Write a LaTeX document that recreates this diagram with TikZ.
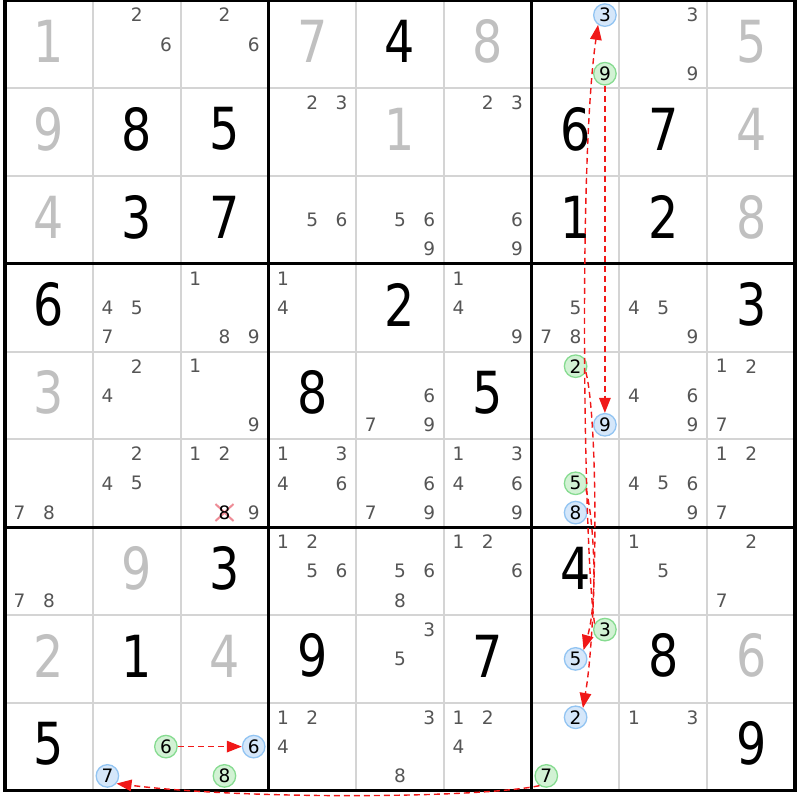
\documentclass[tikz,border=0pt]{standalone}
\usepackage{fontspec}
\setmainfont{DejaVu Sans}
\newfontfamily\bigfont[FakeStretch=0.82]{DejaVu Sans}
\usetikzlibrary{arrows.meta}
\definecolor{given}{HTML}{C0C0C0}
\definecolor{candc}{HTML}{555555}
\definecolor{thinc}{HTML}{D4D4D4}
\definecolor{bfill}{HTML}{D5E7FA}
\definecolor{bdraw}{HTML}{92C4F2}
\definecolor{gfill}{HTML}{D2F2D4}
\definecolor{gdraw}{HTML}{86DB90}
\definecolor{chainred}{HTML}{F01818}
\definecolor{xpink}{HTML}{EE8C96}
\begin{document}
\begin{tikzpicture}[x=1pt,y=-1pt,
  bigdig/.style={inner sep=0pt,font=\bigfont\fontsize{58}{60}\selectfont},
  cand/.style={inner sep=0pt,text=candc,font=\fontsize{18.5}{19}\selectfont},
  hl/.style={circle,inner sep=0pt,minimum size=22.5pt,line width=1.3pt,font=\fontsize{18.5}{19}\selectfont,text=black},
  hlb/.style={hl,fill=bfill,draw=bdraw},
  hlg/.style={hl,fill=gfill,draw=gdraw},
  thinline/.style={draw=thinc,line width=2pt},
  thickline/.style={draw=black,line width=3.3pt},
  chain/.style={draw=chainred,line width=1.4pt,dash pattern=on 6pt off 4pt,-{Triangle[length=15pt,width=11.5pt]}},
]
\def\S{87.78}
\fill[white] (0,0) rectangle (800,800);
\useasboundingbox (0,0) rectangle (800,800);
% grid
\foreach \i in {1,2,4,5,7,8}{
  \draw[thinline] ({5+\i*\S},0.5) -- ({5+\i*\S},790.5);
  \draw[thinline] (5,{0.5+\i*\S}) -- (795,{0.5+\i*\S});
}
\foreach \i in {0,3,6,9}{
  \draw[thickline] ({5+\i*\S},-1) -- ({5+\i*\S},792);
  \draw[thickline] (3.3,{0.5+\i*\S}) -- (796.7,{0.5+\i*\S});
}
% big digits
\foreach \r/\c/\d/\col in {1/1/1/given,1/4/7/given,1/5/4/black,1/6/8/given,1/9/5/given,
  2/1/9/given,2/2/8/black,2/3/5/black,2/5/1/given,2/7/6/black,2/8/7/black,2/9/4/given,
  3/1/4/given,3/2/3/black,3/3/7/black,3/7/1/black,3/8/2/black,3/9/8/given,
  4/1/6/black,4/5/2/black,4/9/3/black,
  5/1/3/given,5/4/8/black,5/6/5/black,
  7/2/9/given,7/3/3/black,7/7/4/black,
  8/1/2/given,8/2/1/black,8/3/4/given,8/4/9/black,8/6/7/black,8/8/8/black,8/9/6/given,
  9/1/5/black,9/9/9/black}{
  \node[bigdig,text=\col] (v\r\c) at ({5+(\c-0.5)*\S},{0.5+(\r-0.5)*\S-3}) {\d};
}
% candidates
\foreach \r/\c/\L in {1/2/{2,6},1/3/{2,6},1/8/{3,9},
  2/4/{2,3},2/6/{2,3},
  3/4/{5,6},3/5/{5,6,9},3/6/{6,9},
  4/2/{4,5,7},4/3/{1,8,9},4/4/{1,4},4/6/{1,4,9},4/7/{5,7,8},4/8/{4,5,9},
  5/2/{2,4},5/3/{1,9},5/5/{6,7,9},5/8/{4,6,9},5/9/{1,2,7},
  6/1/{7,8},6/2/{2,4,5},6/3/{1,2,9},6/4/{1,3,4,6},6/5/{6,7,9},6/6/{1,3,4,6,9},6/8/{4,5,6,9},6/9/{1,2,7},
  7/1/{7,8},7/4/{1,2,5,6},7/5/{5,6,8},7/6/{1,2,6},7/8/{1,5},7/9/{2,7},
  8/5/{3,5},
  9/4/{1,2,4},9/5/{3,8},9/6/{1,2,4},9/8/{1,3}}{
  \foreach \d in \L {
    \node[cand] (k\r\c\d) at ({5+(\c-1)*\S+(2*mod(\d-1,3)+1)*\S/6},{0.5+(\r-1)*\S+(2*int((\d-1)/3)+1)*\S/6}) {\d};
  }
}
% eliminated candidate
\draw[xpink,line width=2pt] (215.5,504) -- (233.5,521) (233.5,504) -- (215.5,521);
\node[cand,text=black] (x638) at (224.45,512.55) {8};
% highlighted candidates
\node[hlb] (b17) at (604.9,15.1) {3};
\node[hlg] (g17) at (604.9,73.7) {9};
\node[hlg] (g57) at (575.6,366.2) {2};
\node[hlb] (b57) at (604.9,424.8) {9};
\node[hlg] (g67) at (575.6,483.3) {5};
\node[hlb] (b67) at (575.6,512.6) {8};
\node[hlg] (g87) at (604.9,629.6) {3};
\node[hlb] (b87) at (575.6,658.9) {5};
\node[hlb] (b97) at (575.6,717.3) {2};
\node[hlg] (g97) at (546.3,775.9) {7};
\node[hlg] (g92) at (165.9,746.6) {6};
\node[hlb] (b92) at (107.4,775.9) {7};
\node[hlb] (b93) at (253.7,746.6) {6};
\node[hlg] (g93) at (224.45,775.9) {8};
% chain
\draw[chain] (g17) -- (b57);
\draw[chain] (g92) -- (b93);
\draw[chain] (g87.150) .. controls (584,560) and (578,160) .. (b17.235);
\draw[chain] (g57.330) .. controls (598,420) and (598,620) .. (b97.52);
\draw[chain] (g67.330) .. controls (594,520) and (598,600) .. (b87.48);
\draw[chain] (g97.235) .. controls (480,798) and (250,800) .. (b92.320);
\end{tikzpicture}
\end{document}
